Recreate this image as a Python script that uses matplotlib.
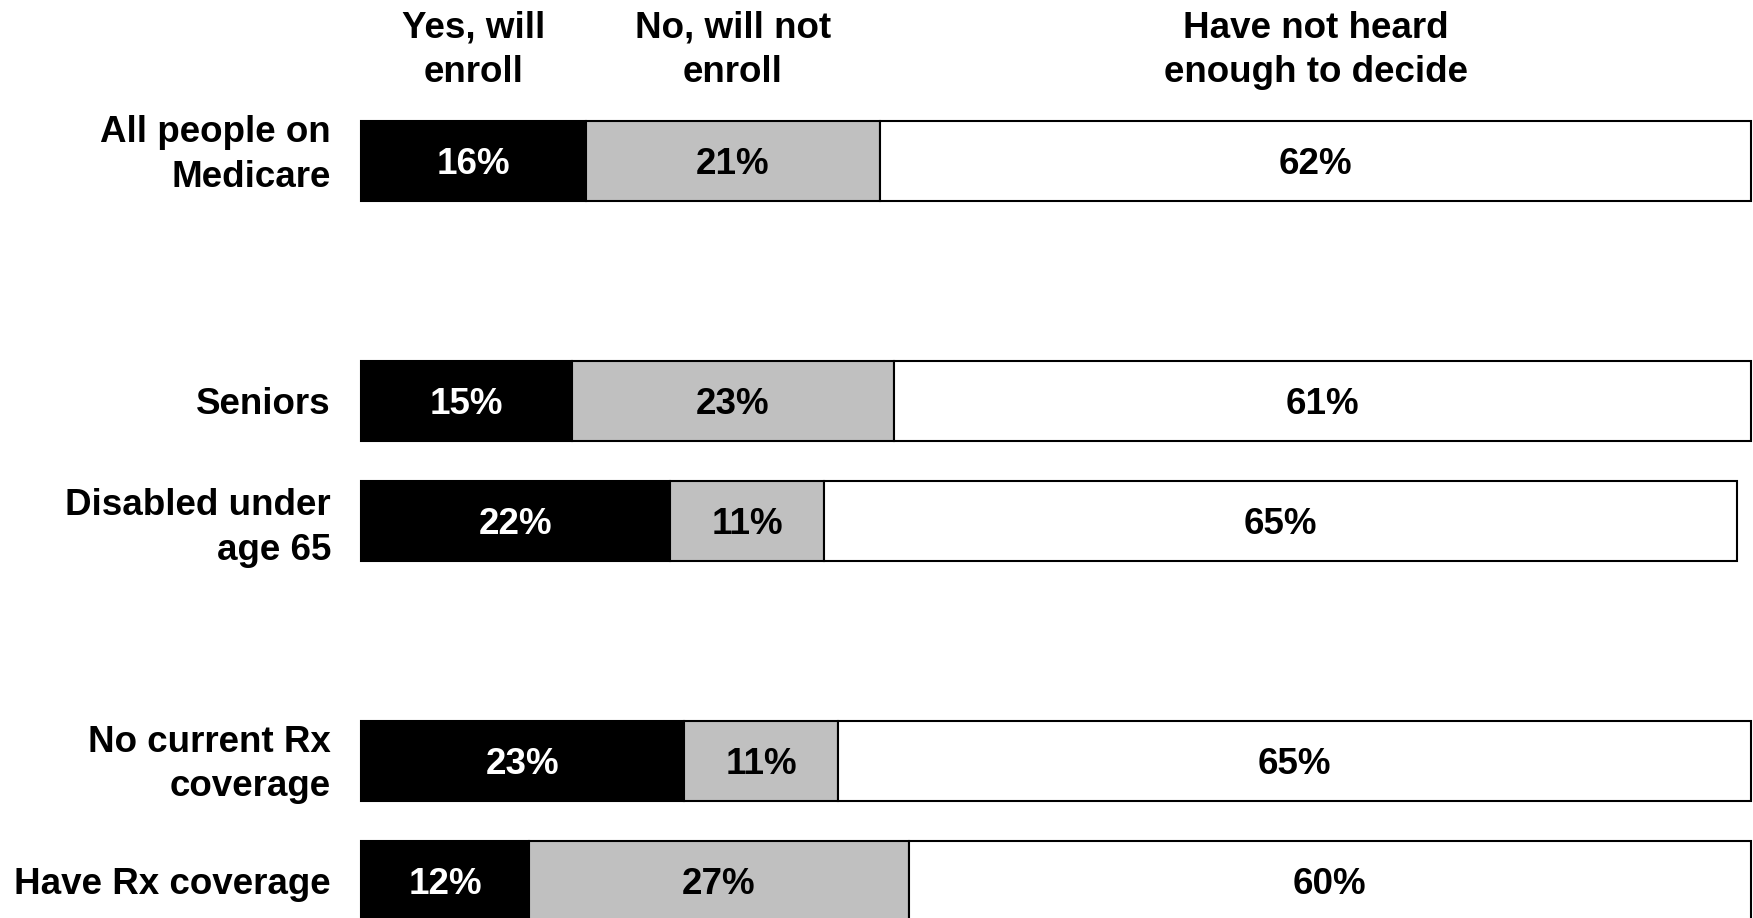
import numpy as np
import matplotlib.pyplot as plt

plt.rcParams['font.family'] = ['Liberation Sans', 'DejaVu Sans']

categories = ["All people on\nMedicare", "Seniors", "Disabled under\nage 65",
              "No current Rx\ncoverage", "Have Rx coverage"]
yes = [16, 15, 22, 23, 12]
no = [21, 23, 11, 11, 27]
not_heard = [62, 61, 65, 65, 60]
headers = ["Yes, will\nenroll", "No, will not\nenroll", "Have not heard\nenough to decide"]
ypos = [0, 2, 3, 5, 6]

fig = plt.figure(figsize=(17.53, 9.18), dpi=100)
ax = fig.add_axes([361 / 1753, 0, 1 - 361 / 1753, 1])
ax.set_xlim(0, 99.15)
ax.set_ylim(6.31, -1.34)
ax.axis('off')

fs = 26.5
h = 0.67
dy = 0.03  # nudge text down a touch so digits sit in the bar's middle
left = np.zeros(len(ypos))
for vals, col, tcol in [(yes, 'black', 'white'), (no, '#c0c0c0', 'black'),
                        (not_heard, 'white', 'black')]:
    vals = np.array(vals)
    ax.barh(ypos, vals, left=left, height=h, color=col, edgecolor='black',
            linewidth=1.5, clip_on=False)
    for y, l, v in zip(ypos, left, vals):
        ax.text(l + v / 2, y + dy, f"{v}%", ha='center', va='center', color=tcol,
                fontsize=fs, fontweight='bold')
    left = left + vals

# row labels; the first one sits a bit high in the original
nudge = [-0.05, 0.03, 0.06, 0.03, 0.03]
for y, c, n in zip(ypos, categories, nudge):
    ax.text(-2.14, y + n, c, ha='right', va='center', fontsize=fs,
            fontweight='bold', linespacing=1.36, clip_on=False)

# headers centred over the first bar's segments
l0 = 0
for hd, v in zip(headers, [yes[0], no[0], not_heard[0]]):
    ax.text(l0 + v / 2, -0.92, hd, ha='center', va='center', fontsize=fs,
            fontweight='bold', linespacing=1.36)
    l0 += v

fig.savefig('out.png', dpi=100)
